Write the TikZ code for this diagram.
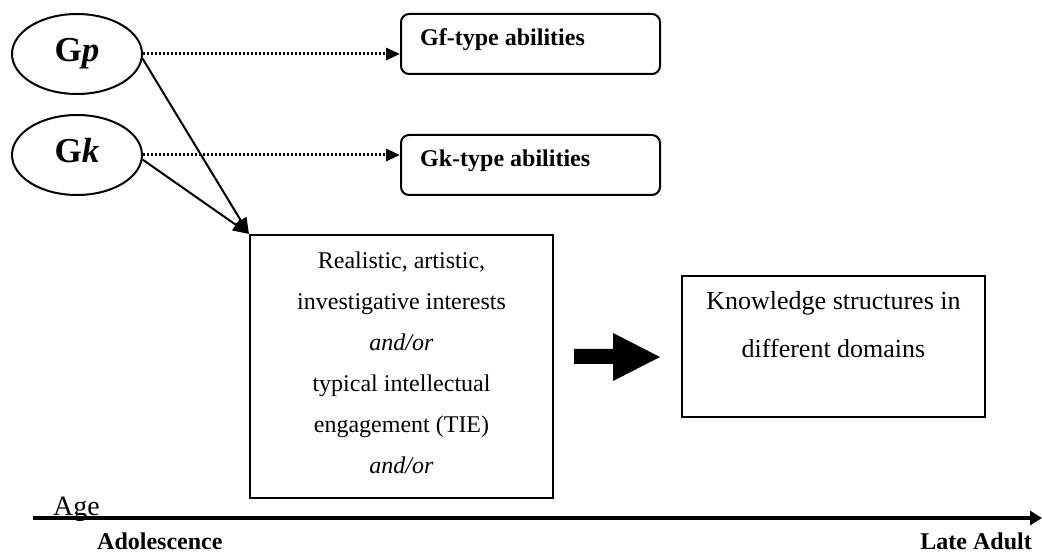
\documentclass[tikz,border=0pt]{standalone}
\usepackage{fontspec}
\setmainfont{Liberation Serif}
\usetikzlibrary{shapes.geometric,arrows.meta}
\begin{document}
\begin{tikzpicture}[x=1pt,y=-1pt,
  factor/.style={ellipse,draw,line width=2pt,minimum width=130pt,minimum height=80pt,
    inner sep=0pt,font=\fontsize{35}{38}\selectfont\bfseries,text height=23pt,text depth=7pt},
  ability/.style={draw,line width=2pt,rounded corners=8pt,minimum width=259pt,
    minimum height=60pt,inner sep=0pt},
  abilitytext/.style={anchor=base west,inner sep=0pt,font=\fontsize{24}{28}\selectfont\bfseries},
  plainbox/.style={draw,line width=2pt,inner sep=0pt},
  dotarrow/.style={line width=3pt,dash pattern=on 2.2pt off 1.8pt,
    -{Triangle[length=14pt,width=12pt]}},
  solidarrow/.style={line width=2pt,-{Triangle[length=16pt,width=13pt]}},
  axislabel/.style={inner sep=0pt,font=\fontsize{24}{28}\selectfont\bfseries}]
\useasboundingbox (0,0) rectangle (1042,553);

% latent factors
\node[factor] (gp) at (77,54) {G\textit{p}};
\node[factor] (gk) at (77,155) {G\textit{k}};

% ability boxes
\node[ability] (gf) at (530.5,44) {};
\node[abilitytext] (gflabel) at (420,46) {Gf-type abilities};
\node[ability] (gkb) at (530.5,165) {};
\node[abilitytext] (gklabel) at (420,167) {Gk-type abilities};

% interests / engagement box (text node anchored on its last baseline)
\node[plainbox,minimum width=303pt,minimum height=263pt] (mid) at (401.5,366.5) {};
\node[anchor=base,align=center,inner sep=0pt,font=\fontsize{24}{41}\selectfont] (midtext) at (401.5,473)
  {Realistic, artistic,\\investigative interests\\\textit{and/or}\\typical intellectual\\engagement (TIE)\\\textit{and/or}};

% knowledge box
\node[plainbox,minimum width=303pt,minimum height=141pt] (know) at (833.5,346.5) {};
\node[anchor=base,align=center,inner sep=0pt,font=\fontsize{26}{48}\selectfont] (knowtext) at (833.5,358)
  {Knowledge structures in\\different domains};

% connectors
\draw[dotarrow] (gp.east) -- (gp.east -| gf.west);
\draw[dotarrow] (gk.east) -- (gk.east -| gkb.west);
\draw[solidarrow] (gp.-4) -- (mid.north west);
\draw[solidarrow] (gk.-4) -- (mid.north west);

% block arrow between the two boxes
\fill (574,349) -- (613,349) -- (613,333) -- (660,357) -- (613,381) -- (613,364) -- (574,364) -- cycle;

% age axis
\coordinate (axstart) at (33,518);
\coordinate (axend) at (1042,518);
\draw[line width=4.5pt,-{Triangle[length=12pt,width=14pt]}] (axstart) -- (axend);
\node[anchor=base west,inner sep=0pt,font=\fontsize{28}{32}\selectfont] (age) at (53,515) {Age};
\node[axislabel,anchor=base west] (adol) at (97,549) {Adolescence};
\node[axislabel,anchor=base east] (late) at (1032,549) {Late Adult};
\end{tikzpicture}
\end{document}
